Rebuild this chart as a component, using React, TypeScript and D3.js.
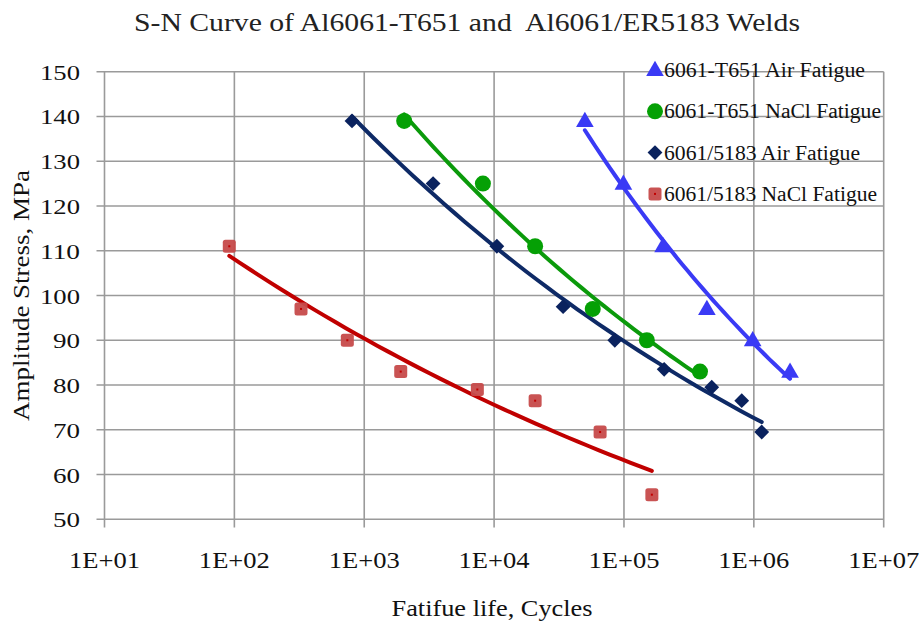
import * as d3 from "d3";

// Data (cycles, MPa)
const airT651N = [5.0e4, 9.9e4, 2.0e5, 4.35e5, 9.8e5, 1.9e6];
const airT651S = [139, 125, 111, 97, 90, 83];

const naclT651N = [2.03e3, 8.2e3, 2.07e4, 5.75e4, 1.5e5, 3.85e5];
const naclT651S = [139, 125, 111, 97, 90, 83];

const airWeldN = [805, 3.39e3, 1.05e4, 3.4e4, 8.5e4, 2.04e5, 4.74e5, 8.07e5, 1.15e6];
const airWeldS = [139, 125, 111, 97.5, 90, 83.5, 79.5, 76.5, 69.5];

const naclWeldN = [91.4, 326, 741, 1.91e3, 7.43e3, 2.07e4, 6.55e4, 1.64e5];
const naclWeldS = [111, 97, 90, 83, 79, 76.5, 69.5, 55.5];

const xTicks = [1e1, 1e2, 1e3, 1e4, 1e5, 1e6, 1e7];
const yTicks = [50, 60, 70, 80, 90, 100, 110, 120, 130, 140, 150];

const seriesNames = [
  "6061-T651 Air Fatigue",
  "6061-T651 NaCl Fatigue",
  "6061/5183 Air Fatigue",
  "6061/5183 NaCl Fatigue",
];
const legendWidths = [201, 217, 196, 213];

type Series = {
  name: string;
  n: number[];
  s: number[];
  line: string;
  fill: string;
  shape: string;
};

const series: Series[] = [
  { name: seriesNames[0], n: airT651N, s: airT651S, line: "#3a3af5", fill: "#3a3af5", shape: "triangle" },
  { name: seriesNames[1], n: naclT651N, s: naclT651S, line: "#0b9a0b", fill: "#05a005", shape: "circle" },
  { name: seriesNames[2], n: airWeldN, s: airWeldS, line: "#0e2a66", fill: "#0a225e", shape: "diamond" },
  { name: seriesNames[3], n: naclWeldN, s: naclWeldS, line: "#c00000", fill: "#c64a4a", shape: "square" },
];

// power trendline y = a * x^b (least squares on ln-ln), like Excel
function powerFit(n: number[], s: number[]) {
  const lx = n.map(Math.log);
  const ly = s.map(Math.log);
  const mx = d3.mean(lx) as number;
  const my = d3.mean(ly) as number;
  let sxy = 0;
  let sxx = 0;
  lx.forEach((v, i) => {
    sxy += (v - mx) * (ly[i] - my);
    sxx += (v - mx) * (v - mx);
  });
  const b = sxy / sxx;
  const a = Math.exp(my - b * mx);
  return (x: number) => a * Math.pow(x, b);
}

function Marker({ shape, color, x, y }: { shape: string; color: string; x: number; y: number }) {
  if (shape === "triangle") {
    const p = d3.symbol().type(d3.symbolTriangle).size(135)();
    return <path d={p as string} fill={color} transform={`translate(${x},${y + 1})`} />;
  }
  if (shape === "circle") {
    return <circle cx={x} cy={y} r={8} fill={color} />;
  }
  if (shape === "diamond") {
    const p = d3.symbol().type(d3.symbolSquare).size(110)();
    return <path d={p as string} fill={color} transform={`translate(${x},${y}) rotate(45)`} />;
  }
  return (
    <g>
      <rect x={x - 6.5} y={y - 6.5} width={13} height={13} rx={2.5} fill={color} opacity={0.95} />
      <rect x={x - 1} y={y - 1} width={2} height={2} fill="#c00000" />
    </g>
  );
}

export default function App() {
  const width = 922;
  const height = 624;
  const x = d3.scaleLog().domain([1e1, 1e7]).range([104.5, 883.7]);
  const y = d3.scaleLinear().domain([50, 150]).range([519.3, 71.7]);

  const line = d3
    .line<number>()
    .x((d) => x(d))
    .y((d) => y(d));

  const serif = "Liberation Serif, Times New Roman, Times, serif";
  const grid = "#9a9a9a";

  return (
    <svg
      width={width}
      height={height}
      style={{ position: "absolute", left: 0, top: 0, fontFamily: serif }}
    >
      <rect width={width} height={height} fill="#fff" />
      <text
        x={134}
        y={31}
        fontSize={25}
        textLength={666}
        lengthAdjust="spacingAndGlyphs"
        style={{ whiteSpace: "pre" }}
        fill="#222"
      >
        S-N Curve of Al6061-T651 and  Al6061/ER5183 Welds
      </text>

      {/* grid + ticks */}
      {yTicks.map((t) => (
        <g key={"y" + t}>
          <line x1={96.5} x2={x(1e7)} y1={y(t)} y2={y(t)} stroke={grid} strokeWidth={1.6} />
          <text
            x={80}
            y={y(t) + 8}
            textAnchor="end"
            fontSize={22}
            textLength={t >= 100 ? 40 : 27}
            lengthAdjust="spacingAndGlyphs"
            fill="#111"
          >
            {t}
          </text>
        </g>
      ))}
      {xTicks.map((t) => (
        <g key={"x" + t}>
          <line x1={x(t)} x2={x(t)} y1={y(150)} y2={527.5} stroke={grid} strokeWidth={1.6} />
          <text
            x={x(t)}
            y={568}
            textAnchor="middle"
            fontSize={24}
            textLength={71}
            lengthAdjust="spacingAndGlyphs"
            fill="#111"
          >
            {"1E+" + d3.format("02d")(Math.log10(t))}
          </text>
        </g>
      ))}

      <text x={492} y={616} textAnchor="middle" fontSize={24} textLength={201} lengthAdjust="spacingAndGlyphs" fill="#111">
        Fatifue life, Cycles
      </text>
      <text
        transform="translate(29,295.5) rotate(-90)"
        textAnchor="middle"
        fontSize={24}
        textLength={251}
        lengthAdjust="spacingAndGlyphs"
        fill="#111"
      >
        Amplitude Stress, MPa
      </text>

      {/* trendlines */}
      {series.map((s) => {
        const f = powerFit(s.n, s.s);
        const lo = Math.log10(d3.min(s.n) as number);
        const hi = Math.log10(d3.max(s.n) as number);
        const xs = d3.range(0, 41).map((i) => Math.pow(10, lo + ((hi - lo) * i) / 40));
        return (
          <path
            key={"l" + s.name}
            d={line.x((d) => x(d)).y((d) => y(f(d)))(xs) as string}
            fill="none"
            stroke={s.line}
            strokeWidth={4}
            strokeLinecap="round"
          />
        );
      })}

      {/* markers */}
      {series.map((s) =>
        s.n.map((n, i) => (
          <Marker key={s.name + i} shape={s.shape} color={s.fill} x={x(n)} y={y(s.s[i])} />
        ))
      )}

      {/* legend */}
      {series.map((s, i) => (
        <g key={"lg" + i} transform={`translate(0,${70 + i * 41.3})`}>
          <Marker shape={s.shape} color={s.fill} x={655} y={0} />
          <text
            x={664}
            y={7}
            fontSize={20}
            textLength={legendWidths[i]}
            lengthAdjust="spacingAndGlyphs"
            fill="#111"
          >
            {s.name}
          </text>
        </g>
      ))}
    </svg>
  );
}
